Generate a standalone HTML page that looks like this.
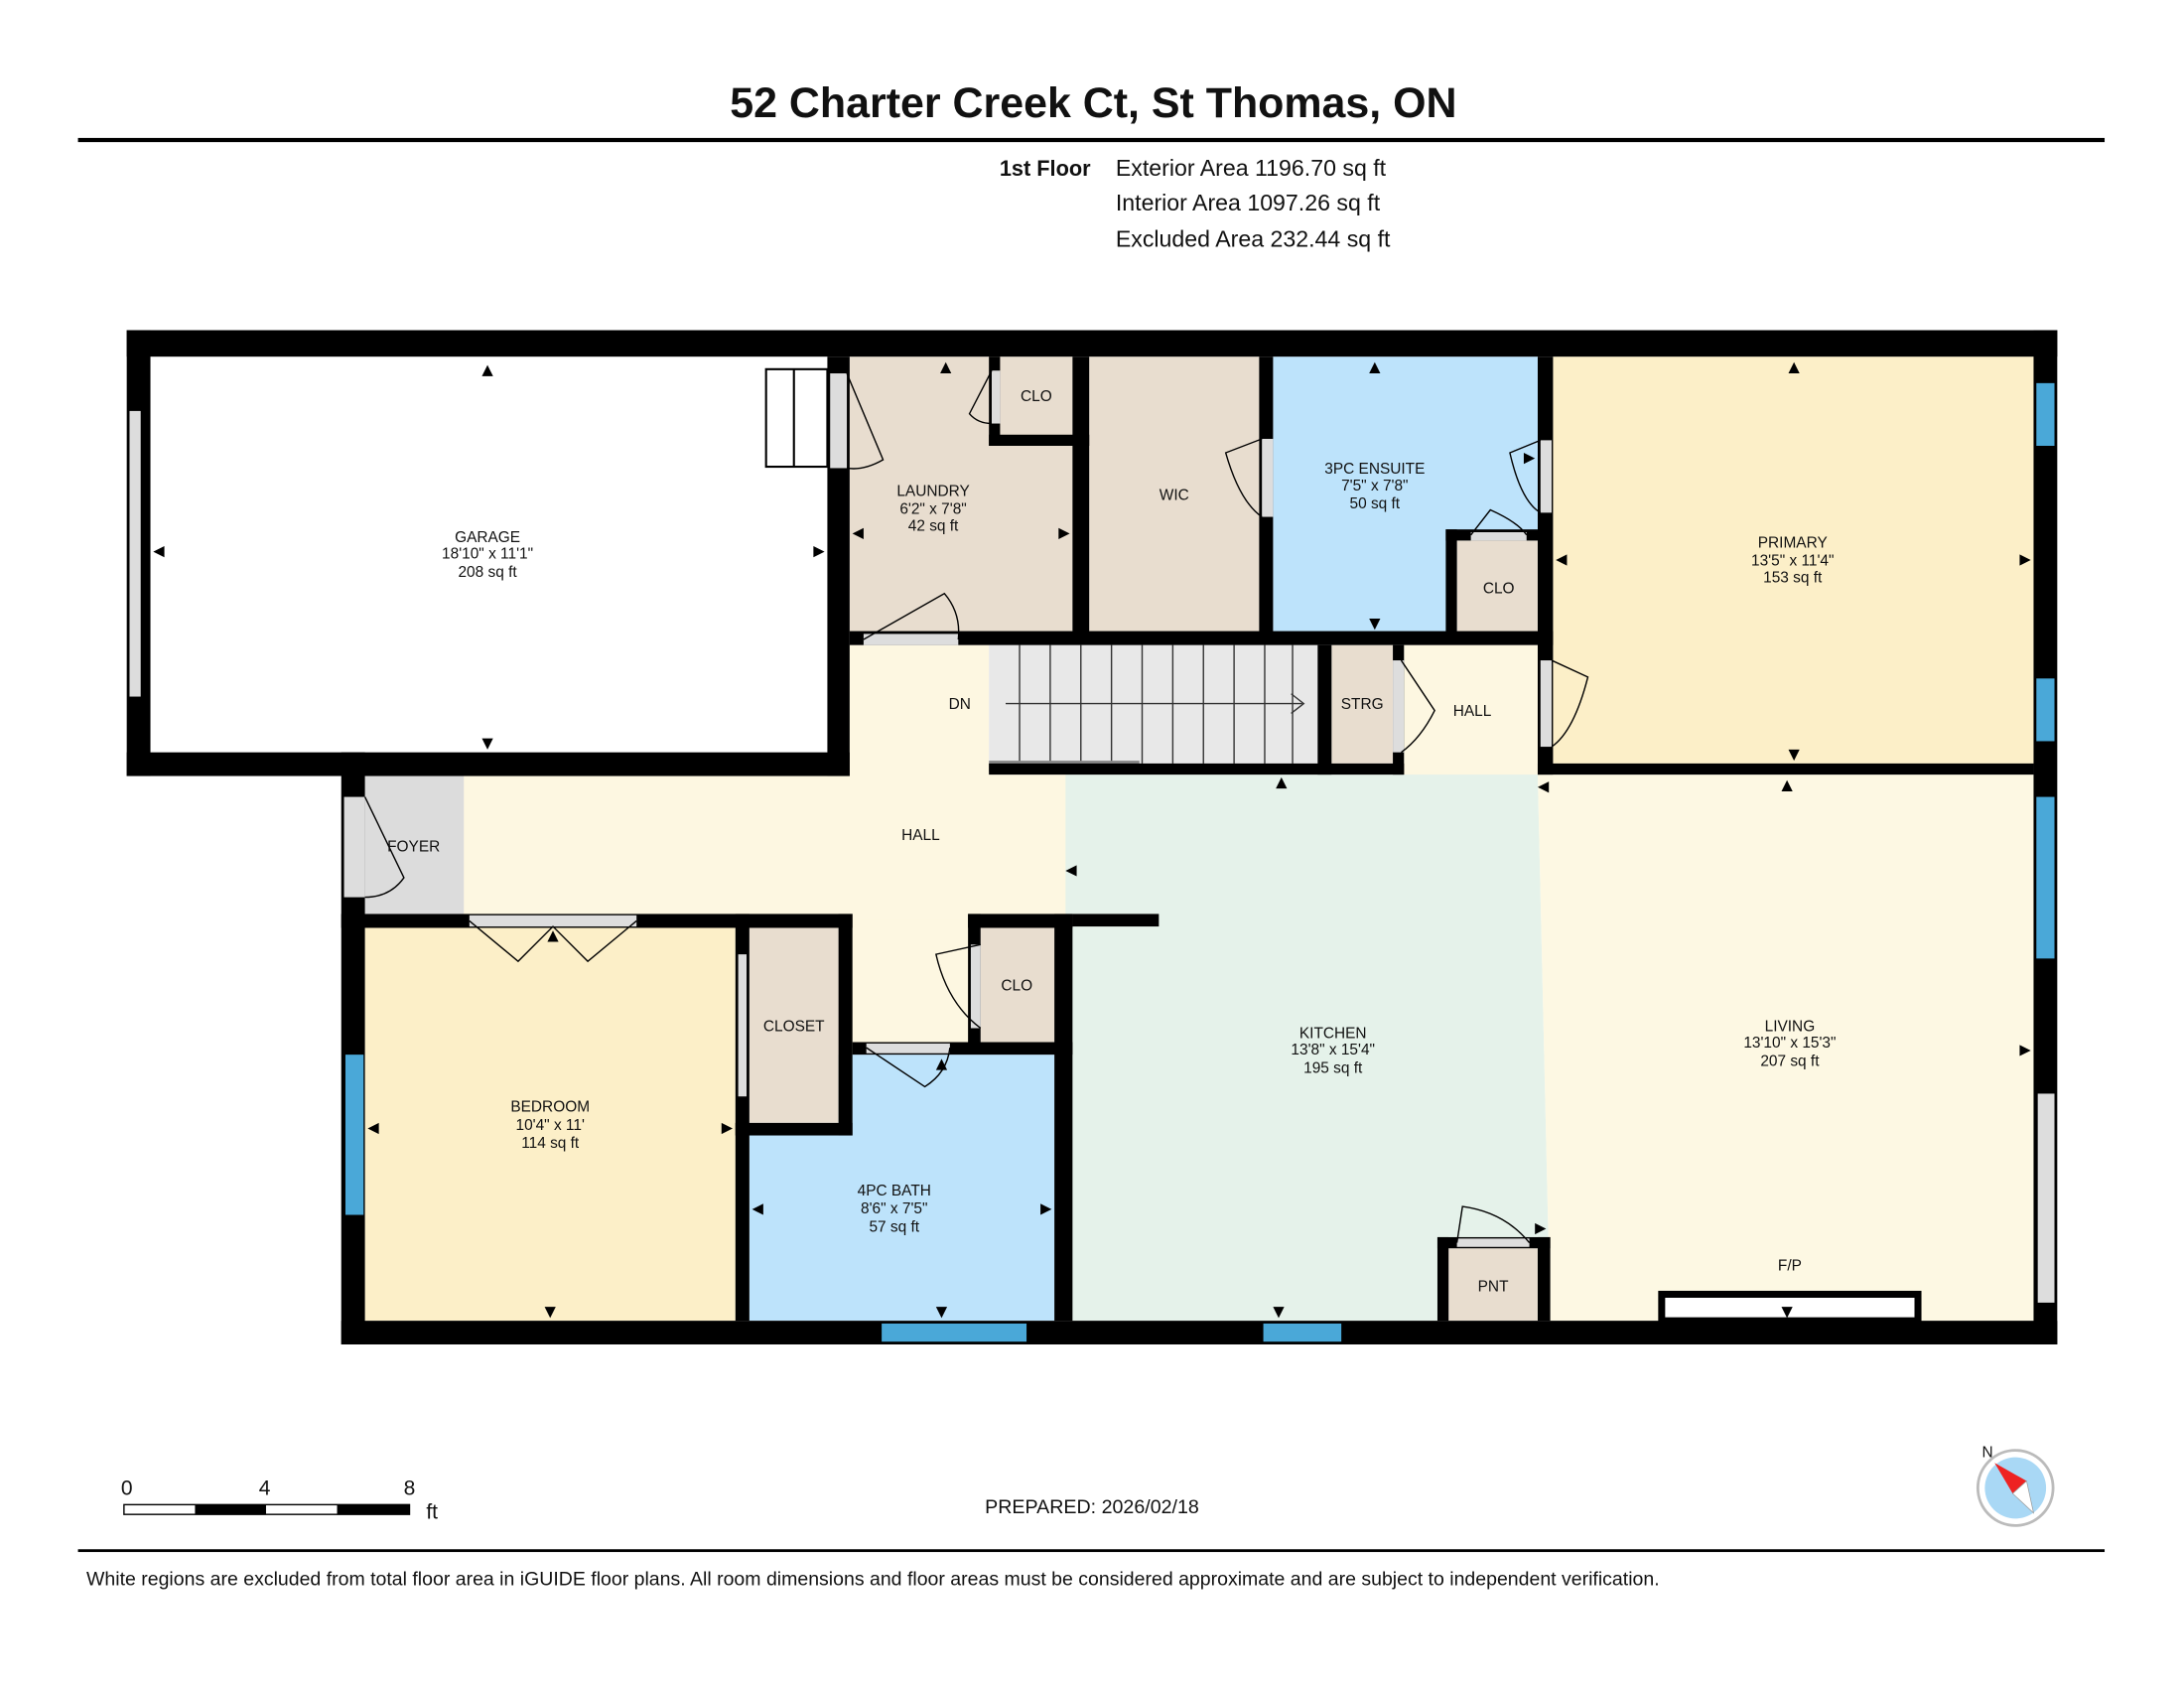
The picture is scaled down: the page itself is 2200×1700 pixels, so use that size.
<!DOCTYPE html>
<html><head><meta charset="utf-8"><style>
html,body{margin:0;padding:0;background:#fff;}
svg{display:block;}
text{font-family:"Liberation Sans",Arial,sans-serif;fill:#111;}
.l{font-size:11px;text-anchor:middle;}
</style></head><body>
<svg width="2200" height="1700" viewBox="0 0 1568 1211.6" preserveAspectRatio="none" xmlns="http://www.w3.org/2000/svg">
<rect width="1568" height="1212" fill="#fff"/>
<text x="785" y="84" font-size="30.6" font-weight="bold" text-anchor="middle">52 Charter Creek Ct, St Thomas, ON</text>
<rect x="56" y="99" width="1455" height="3" fill="#000"/>
<text x="783" y="126" font-size="15.5" font-weight="bold" text-anchor="end">1st Floor</text>
<text x="801" y="126" font-size="16.5">Exterior Area 1196.70 sq ft</text>
<text x="801" y="151" font-size="16.5">Interior Area 1097.26 sq ft</text>
<text x="801" y="177" font-size="16.5">Excluded Area 232.44 sq ft</text>

<!-- fills -->
<rect x="610" y="256" width="160" height="199" fill="#e8ddcf"/>
<rect x="782" y="256" width="122" height="199" fill="#e8ddcf"/>
<rect x="914" y="256" width="190" height="199" fill="#bde3fb"/>
<rect x="1046" y="388" width="58" height="67" fill="#e8ddcf"/>
<rect x="1115" y="256" width="345" height="292" fill="#fcefc8"/>
<rect x="610" y="463" width="100" height="200" fill="#fdf7e1"/>
<rect x="330" y="556" width="440" height="104" fill="#fdf7e1"/>
<rect x="610" y="660" width="90" height="95" fill="#fdf7e1"/>
<rect x="1008" y="463" width="100" height="95" fill="#fdf7e1"/>
<rect x="262" y="556" width="71" height="100" fill="#dcdcdc"/>
<polygon points="765,556 1104,556 1113,948 765,948" fill="#e5f2ea"/>
<polygon points="1104,556 1460,556 1460,948 1113,948" fill="#fdf8e3"/>
<rect x="262" y="665" width="266" height="283" fill="#fcefc8"/>
<rect x="538" y="757" width="219" height="191" fill="#bde3fb"/>
<rect x="538" y="665" width="64" height="141" fill="#e8ddcf"/>
<rect x="704" y="665" width="53" height="83" fill="#e8ddcf"/>
<rect x="1040" y="896" width="64" height="52" fill="#e8ddcf"/>
<rect x="956" y="463" width="44" height="85" fill="#e8ddcf"/>
<!-- stairs -->
<rect x="710" y="463" width="236" height="85" fill="#e8e8e8"/>
<g stroke="#333" stroke-width="1">
<line x1="732" y1="463" x2="732" y2="548"/><line x1="754" y1="463" x2="754" y2="548"/><line x1="776" y1="463" x2="776" y2="548"/><line x1="798" y1="463" x2="798" y2="548"/><line x1="820" y1="463" x2="820" y2="548"/><line x1="842" y1="463" x2="842" y2="548"/><line x1="864" y1="463" x2="864" y2="548"/><line x1="886" y1="463" x2="886" y2="548"/><line x1="908" y1="463" x2="908" y2="548"/><line x1="928" y1="463" x2="928" y2="548"/>
<line x1="722" y1="505" x2="935" y2="505"/><polyline points="927,498 936,505 927,512" fill="none"/>
</g>
<rect x="710" y="546" width="108" height="8" fill="#888"/>
<!-- garage steps -->
<g fill="#fff" stroke="#000" stroke-width="1.5"><rect x="550" y="265" width="44" height="70"/><line x1="570" y1="265" x2="570" y2="335"/></g>

<!-- walls -->
<g fill="#000">
<rect x="91" y="237" width="1386" height="19"/>
<rect x="91" y="237" width="17" height="320"/>
<rect x="91" y="540" width="519" height="17"/>
<rect x="594" y="256" width="16" height="301"/>
<rect x="245" y="540" width="17" height="425"/>
<rect x="245" y="948" width="1232" height="17"/>
<rect x="1460" y="237" width="17" height="728"/>
<rect x="610" y="453" width="505" height="10"/>
<rect x="770" y="256" width="12" height="199"/>
<rect x="710" y="256" width="8" height="64"/>
<rect x="710" y="312" width="72" height="8"/>
<rect x="904" y="256" width="10" height="199"/>
<rect x="1104" y="256" width="11" height="300"/>
<rect x="1038" y="380" width="8" height="75"/>
<rect x="1038" y="380" width="70" height="8"/>
<rect x="1104" y="548" width="356" height="8"/>
<rect x="710" y="548" width="298" height="8"/>
<rect x="946" y="463" width="10" height="93"/>
<rect x="1000" y="463" width="8" height="93"/>
<rect x="245" y="656" width="367" height="10"/>
<rect x="602" y="656" width="10" height="159"/>
<rect x="528" y="656" width="10" height="292"/>
<rect x="528" y="806" width="84" height="9"/>
<rect x="612" y="748" width="158" height="9"/>
<rect x="695" y="656" width="9" height="100"/>
<rect x="695" y="656" width="75" height="10"/>
<rect x="757" y="656" width="13" height="292"/>
<rect x="770" y="656" width="62" height="9"/>
<rect x="1032" y="888" width="8" height="60"/>
<rect x="1104" y="888" width="9" height="60"/>
<rect x="1032" y="888" width="81" height="8"/>
</g>
<!-- fireplace -->
<rect x="1193" y="929" width="184" height="19" fill="#fff" stroke="#000" stroke-width="5"/>
<!-- door gaps -->
<g fill="#ddd">
<rect x="596" y="268" width="12" height="68"/>
<rect x="620" y="455" width="68" height="8"/>
<rect x="712" y="266" width="6" height="38"/>
<rect x="906" y="315" width="8" height="56"/>
<rect x="1106" y="316" width="8" height="52"/>
<rect x="1056" y="382" width="40" height="6"/>
<rect x="1106" y="474" width="8" height="62"/>
<rect x="1000" y="474" width="8" height="66"/>
<rect x="247" y="572" width="15" height="72"/>
<rect x="337" y="657" width="120" height="8"/>
<rect x="530" y="685" width="6" height="102"/>
<rect x="622" y="749" width="60" height="7"/>
<rect x="697" y="678" width="7" height="60"/>
<rect x="1046" y="889" width="52" height="6"/>
<rect x="93" y="295" width="8" height="205"/>
<rect x="1463" y="785" width="12" height="150"/>
</g>
<!-- door swings -->
<g fill="none" stroke="#000" stroke-width="1">
<path d="M608,268 L634,330 Q620,338 608,336"/>
<path d="M620,459 L678,426 Q690,440 688,459"/>
<path d="M712,266 L696,297 Q702,304 712,304"/>
<path d="M906,315 L880,325 Q890,360 906,371"/>
<path d="M1106,316 L1084,325 Q1092,360 1106,368"/>
<path d="M1056,384 L1070,366 Q1090,375 1096,384"/>
<path d="M1114,474 L1140,486 Q1130,525 1114,536"/>
<path d="M1006,474 L1030,510 Q1020,530 1006,540"/>
<path d="M262,572 L290,630 Q280,644 262,644"/>
<path d="M337,661 L372,690 L397,665 L422,690 L457,661"/>
<path d="M622,752 L664,780 Q680,770 682,752"/>
<path d="M704,678 L672,685 Q680,720 704,738"/>
<path d="M1046,892 L1050,866 Q1080,870 1098,892"/>
</g>
<!-- windows -->
<g fill="#4aa8d8">
<rect x="1462" y="275" width="13" height="45"/>
<rect x="1462" y="487" width="13" height="45"/>
<rect x="1462" y="572" width="13" height="116"/>
<rect x="248" y="757" width="13" height="115"/>
<rect x="633" y="950" width="104" height="13"/>
<rect x="907" y="950" width="56" height="13"/>
</g>

<!-- labels -->
<g class="l">
<text x="350" y="389">GARAGE</text><text x="350" y="401">18'10" x 11'1"</text><text x="350" y="414">208 sq ft</text>
<text x="670" y="356">LAUNDRY</text><text x="670" y="369">6'2" x 7'8"</text><text x="670" y="381">42 sq ft</text>
<text x="744" y="288">CLO</text>
<text x="843" y="359">WIC</text>
<text x="987" y="340">3PC ENSUITE</text><text x="987" y="352">7'5" x 7'8"</text><text x="987" y="365">50 sq ft</text>
<text x="1076" y="426">CLO</text>
<text x="1287" y="393">PRIMARY</text><text x="1287" y="406">13'5" x 11'4"</text><text x="1287" y="418">153 sq ft</text>
<text x="689" y="509">DN</text>
<text x="978" y="509">STRG</text>
<text x="1057" y="514">HALL</text>
<text x="297" y="611">FOYER</text>
<text x="661" y="603">HALL</text>
<text x="570" y="740">CLOSET</text>
<text x="730" y="711">CLO</text>
<text x="395" y="798">BEDROOM</text><text x="395" y="811">10'4" x 11'</text><text x="395" y="824">114 sq ft</text>
<text x="642" y="858">4PC BATH</text><text x="642" y="871">8'6" x 7'5"</text><text x="642" y="884">57 sq ft</text>
<text x="957" y="745">KITCHEN</text><text x="957" y="757">13'8" x 15'4"</text><text x="957" y="770">195 sq ft</text>
<text x="1285" y="740">LIVING</text><text x="1285" y="752">13'10" x 15'3"</text><text x="1285" y="765">207 sq ft</text>
<text x="1072" y="927">PNT</text>
<text x="1285" y="912">F/P</text>
</g>
<!-- dimension arrows -->
<g fill="#000">
<path d="M350,262 l-4,8 h8z"/><path d="M350,538 l-4,-8 h8z"/><path d="M110,396 l8,-4 v8z"/><path d="M592,396 l-8,-4 v8z"/>
<path d="M679,260 l-4,8 h8z"/><path d="M612,383 l8,-4 v8z"/><path d="M768,383 l-8,-4 v8z"/>
<path d="M987,260 l-4,8 h8z"/><path d="M987,452 l-4,-8 h8z"/><path d="M1102,329 l-8,-4 v8z"/>
<path d="M1288,260 l-4,8 h8z"/><path d="M1288,546 l-4,-8 h8z"/><path d="M1117,402 l8,-4 v8z"/><path d="M1458,402 l-8,-4 v8z"/>
<path d="M920,558 l-4,8 h8z"/><path d="M765,625 l8,-4 v8z"/><path d="M1104,565 l8,-4 v8z"/>
<path d="M1283,560 l-4,8 h8z"/><path d="M1458,754 l-8,-4 v8z"/><path d="M1283,946 l-4,-8 h8z"/><path d="M1110,882 l-8,-4 v8z"/>
<path d="M918,946 l-4,-8 h8z"/>
<path d="M397,668 l-4,8 h8z"/><path d="M395,946 l-4,-8 h8z"/><path d="M264,810 l8,-4 v8z"/><path d="M526,810 l-8,-4 v8z"/>
<path d="M676,760 l-4,8 h8z"/><path d="M676,946 l-4,-8 h8z"/><path d="M540,868 l8,-4 v8z"/><path d="M755,868 l-8,-4 v8z"/>
</g>

<!-- scale bar -->
<text x="91" y="1073" font-size="15" text-anchor="middle">0</text>
<text x="190" y="1073" font-size="15" text-anchor="middle">4</text>
<text x="294" y="1073" font-size="15" text-anchor="middle">8</text>
<text x="306" y="1090" font-size="15">ft</text>
<rect x="89" y="1080" width="205" height="7" fill="#fff" stroke="#000" stroke-width="1"/>
<rect x="140" y="1080" width="51" height="7" fill="#000"/>
<rect x="242" y="1080" width="52" height="7" fill="#000"/>
<text x="784" y="1086" font-size="14" text-anchor="middle">PREPARED: 2026/02/18</text>
<!-- compass -->
<circle cx="1447" cy="1068" r="27" fill="#fff" stroke="#bbb" stroke-width="2"/>
<circle cx="1447" cy="1068" r="22" fill="#a9d8f5"/>
<polygon points="1432,1050 1455,1063 1445,1072" fill="#e22"/>
<polygon points="1455,1063 1445,1072 1460,1086" fill="#fff" stroke="#999" stroke-width="0.5"/>
<text x="1423" y="1046" font-size="11">N</text>
<rect x="56" y="1112" width="1455" height="2" fill="#000"/>
<text x="62" y="1138" font-size="13.9">White regions are excluded from total floor area in iGUIDE floor plans. All room dimensions and floor areas must be considered approximate and are subject to independent verification.</text>
</svg>
</body></html>
